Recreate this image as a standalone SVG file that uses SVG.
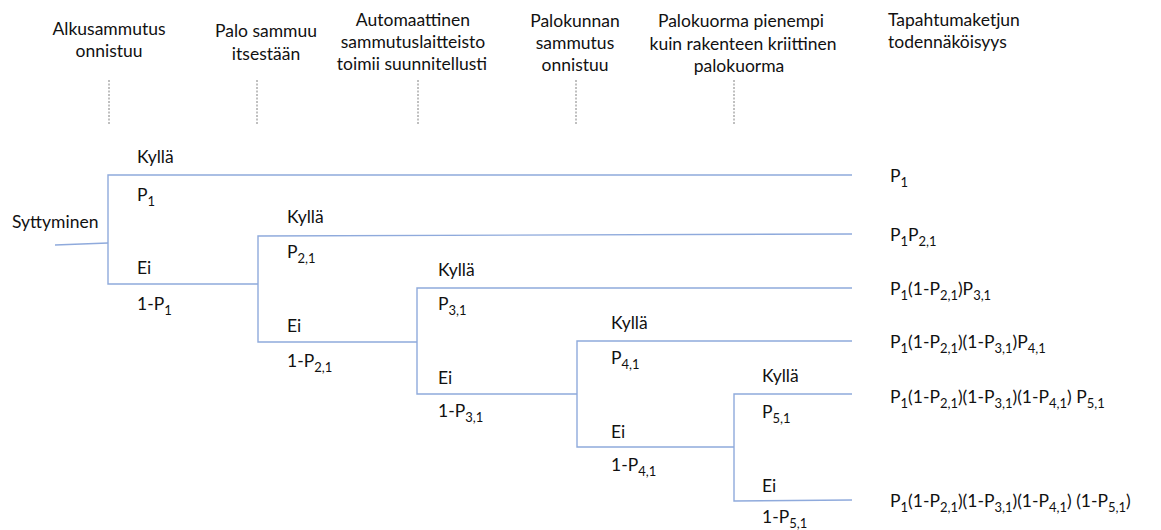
<svg xmlns="http://www.w3.org/2000/svg" width="1161" height="530" viewBox="0 0 1161 530">
  <style>
    text { font-family: Lato, "Open Sans", "Liberation Sans", sans-serif; font-size: 17.5px; fill: #111111; }
    .c { text-anchor: middle; }
    .s { font-size: 13px; }
    .guide { stroke: #808080; stroke-width: 1; stroke-dasharray: 2 1.5; fill: none; }
    .edge { stroke: #8FAADC; stroke-width: 1.4; fill: none; }
  </style>
  <rect width="1161" height="530" fill="#ffffff"/>

  <!-- column headings with their dotted guides -->
  <g id="head-alkusammutus">
    <text class="c" x="109" y="35">Alkusammutus</text>
    <text class="c" x="109" y="57">onnistuu</text>
    <line class="guide" x1="109" y1="80" x2="109" y2="125"/>
  </g>
  <g id="head-itsestaan">
    <text class="c" x="266" y="37">Palo sammuu</text>
    <text class="c" x="266" y="60">itsestään</text>
    <line class="guide" x1="257" y1="80" x2="257" y2="125"/>
  </g>
  <g id="head-automaattinen">
    <text class="c" x="413" y="26">Automaattinen</text>
    <text class="c" x="413" y="48">sammutuslaitteisto</text>
    <text class="c" x="412" y="70">toimii suunnitellusti</text>
    <line class="guide" x1="418" y1="80" x2="418" y2="125"/>
  </g>
  <g id="head-palokunta">
    <text class="c" x="575" y="27">Palokunnan</text>
    <text class="c" x="575" y="49">sammutus</text>
    <text class="c" x="575" y="71">onnistuu</text>
    <line class="guide" x1="576" y1="80" x2="576" y2="125"/>
  </g>
  <g id="head-palokuorma">
    <text class="c" x="741" y="27">Palokuorma pienempi</text>
    <text class="c" x="743" y="50">kuin rakenteen kriittinen</text>
    <text class="c" x="739" y="72">palokuorma</text>
    <line class="guide" x1="734" y1="80" x2="734" y2="125"/>
  </g>
  <g id="head-todennakoisyys">
    <text x="888" y="26">Tapahtumaketjun</text>
    <text x="888" y="48">todennäköisyys</text>
  </g>

  <!-- tree connectors -->
  <g id="connectors">
    <path class="edge" d="M55,245 L108,243"/>
    <path class="edge" d="M852,175 H108 V284 H258"/>
    <path class="edge" d="M852,234 L258,236 V342 H417"/>
    <path class="edge" d="M852,288 H417 V394 H577"/>
    <path class="edge" d="M852,341 H577 V447 H734"/>
    <path class="edge" d="M852,394 H734 V501 L852,500"/>
  </g>

  <g id="start">
    <text x="12" y="228">Syttyminen</text>
  </g>

  <g id="branch-1">
    <text x="137" y="163">Kyllä</text>
    <text x="137" y="201">P<tspan class="s" dy="5">1</tspan></text>
    <text x="137" y="274">Ei</text>
    <text x="137" y="310">1-P<tspan class="s" dy="5">1</tspan></text>
  </g>
  <g id="branch-2">
    <text x="287" y="223">Kyllä</text>
    <text x="287" y="258">P<tspan class="s" dy="5">2,1</tspan></text>
    <text x="287" y="332">Ei</text>
    <text x="287" y="367">1-P<tspan class="s" dy="5">2,1</tspan></text>
  </g>
  <g id="branch-3">
    <text x="438" y="276">Kyllä</text>
    <text x="438" y="310">P<tspan class="s" dy="5">3,1</tspan></text>
    <text x="438" y="384">Ei</text>
    <text x="438" y="417">1-P<tspan class="s" dy="5">3,1</tspan></text>
  </g>
  <g id="branch-4">
    <text x="611" y="329">Kyllä</text>
    <text x="611" y="364">P<tspan class="s" dy="5">4,1</tspan></text>
    <text x="611" y="438">Ei</text>
    <text x="611" y="471">1-P<tspan class="s" dy="5">4,1</tspan></text>
  </g>
  <g id="branch-5">
    <text x="762" y="382">Kyllä</text>
    <text x="762" y="418">P<tspan class="s" dy="5">5,1</tspan></text>
    <text x="762" y="492">Ei</text>
    <text x="762" y="523">1-P<tspan class="s" dy="5">5,1</tspan></text>
  </g>

  <!-- outcome probabilities -->
  <g id="outcomes" xml:space="preserve">
    <text x="890" y="182">P<tspan class="s" dy="5">1</tspan></text>
    <text x="890" y="241">P<tspan class="s" dy="5">1</tspan><tspan dy="-5">P</tspan><tspan class="s" dy="5">2,1</tspan></text>
    <text x="890" y="295">P<tspan class="s" dy="5">1</tspan><tspan dy="-5">(1-P</tspan><tspan class="s" dy="5">2,1</tspan><tspan dy="-5">)P</tspan><tspan class="s" dy="5">3,1</tspan></text>
    <text x="890" y="348">P<tspan class="s" dy="5">1</tspan><tspan dy="-5">(1-P</tspan><tspan class="s" dy="5">2,1</tspan><tspan dy="-5">)(1-P</tspan><tspan class="s" dy="5">3,1</tspan><tspan dy="-5">)P</tspan><tspan class="s" dy="5">4,1</tspan></text>
    <text x="890" y="403">P<tspan class="s" dy="5">1</tspan><tspan dy="-5">(1-P</tspan><tspan class="s" dy="5">2,1</tspan><tspan dy="-5">)(1-P</tspan><tspan class="s" dy="5">3,1</tspan><tspan dy="-5">)(1-P</tspan><tspan class="s" dy="5">4,1</tspan><tspan dy="-5">)  P</tspan><tspan class="s" dy="5">5,1</tspan></text>
    <text x="890" y="507">P<tspan class="s" dy="5">1</tspan><tspan dy="-5">(1-P</tspan><tspan class="s" dy="5">2,1</tspan><tspan dy="-5">)(1-P</tspan><tspan class="s" dy="5">3,1</tspan><tspan dy="-5">)(1-P</tspan><tspan class="s" dy="5">4,1</tspan><tspan dy="-5">)  (1-P</tspan><tspan class="s" dy="5">5,1</tspan><tspan dy="-5">)</tspan></text>
  </g>
</svg>
